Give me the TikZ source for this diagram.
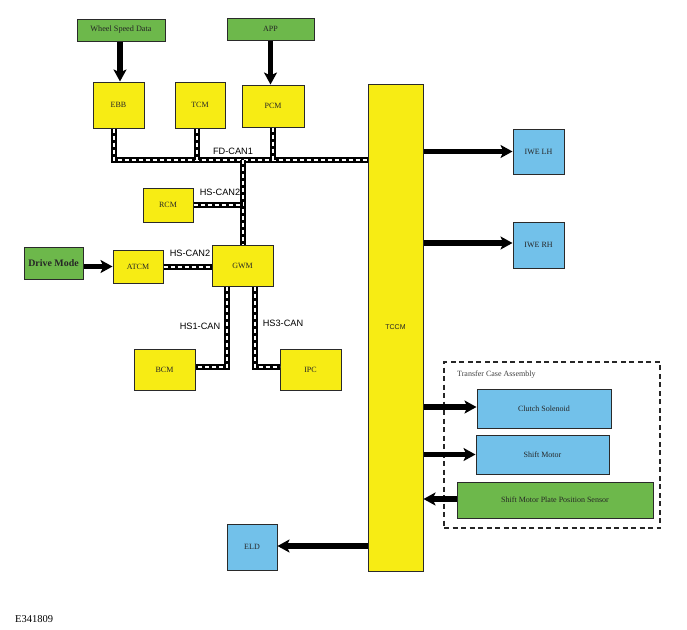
\documentclass[tikz,border=0pt]{standalone}
\usepackage{fontspec}
\setmainfont{Liberation Serif}
\setsansfont{Liberation Sans}
\usetikzlibrary{arrows.meta}
\definecolor{ecuyellow}{HTML}{F7EC14}
\definecolor{sigreen}{HTML}{6DB84B}
\definecolor{actblue}{HTML}{72C1EA}
\definecolor{edgegray}{HTML}{2A2A2A}
\tikzset{
  box/.style={draw=edgegray, line width=1pt, inner sep=0pt, align=center,
    font=\fontsize{8}{9.5}\selectfont, text=black!85},
  ecu/.style={box, fill=ecuyellow},
  sig/.style={box, fill=sigreen},
  act/.style={box, fill=actblue},
  bus/.style={draw=white, line width=2pt, dash pattern=on 4pt off 3pt,
    preaction={draw=black, line width=6pt, solid, line join=miter}},
  bigarrow/.style={draw=black, line width=5.3pt,
    -{Stealth[length=12pt, width=13pt, inset=3pt]}},
  buslabel/.style={font=\sffamily\fontsize{9.2}{10}\selectfont, inner sep=0pt},
}
\begin{document}
\begin{tikzpicture}[x=1pt, y=-1pt]
\useasboundingbox (0,0) rectangle (687,629);
% nodes
\node[sig, minimum width=88pt, minimum height=22pt, font=\fontsize{8.2}{9.5}\selectfont] (wsd) at (121,30) {Wheel Speed Data};
\node[sig, minimum width=87pt, minimum height=22pt] (app) at (270.5,29) {APP};
\node[ecu, minimum width=51pt, minimum height=46pt] (ebb) at (118.5,105) {EBB};
\node[ecu, minimum width=50pt, minimum height=46pt] (tcm) at (200,105) {TCM};
\node[ecu, minimum width=62pt, minimum height=42pt] (pcm) at (273,106) {PCM};
\node[ecu, minimum width=55pt, minimum height=487pt, font=\sffamily\fontsize{7}{8}\selectfont] (tccm) at (395.5,327.5) {TCCM};
\node[ecu, minimum width=50pt, minimum height=34pt] (rcm) at (168,205) {RCM};
\node[ecu, minimum width=61pt, minimum height=41pt] (gwm) at (242.5,265.5) {GWM};
\node[sig, minimum width=59pt, minimum height=32pt, font=\bfseries\fontsize{9.9}{11}\selectfont] (drive) at (53.5,263) {Drive Mode};
\node[ecu, minimum width=50pt, minimum height=33pt] (atcm) at (138,266.5) {ATCM};
\node[ecu, minimum width=61pt, minimum height=41pt] (bcm) at (164.5,369.5) {BCM};
\node[ecu, minimum width=61pt, minimum height=41pt] (ipc) at (310.5,369.5) {IPC};
\node[act, minimum width=51pt, minimum height=45pt] (iwel) at (538.5,151.5) {IWE LH};
\node[act, minimum width=51pt, minimum height=46pt] (iwer) at (538.5,245) {IWE RH};
\node[draw=black!85, line width=1.4pt, dash pattern=on 5pt off 3.5pt, minimum width=216pt, minimum height=166pt, inner sep=0pt] (tca) at (552,445) {};
\node[anchor=west, font=\fontsize{8}{9.5}\selectfont, text=black!75, inner sep=0pt] (tcalabel) at (457,375) {Transfer Case Assembly};
\node[act, minimum width=134pt, minimum height=39pt] (clutch) at (544,408.5) {Clutch Solenoid};
\node[act, minimum width=133pt, minimum height=39pt] (shift) at (542.5,454.5) {Shift Motor};
\node[sig, minimum width=196pt, minimum height=36pt] (sensor) at (555,500) {Shift Motor Plate Position Sensor};
\node[act, minimum width=50pt, minimum height=46pt] (eld) at (252,547) {ELD};
\node[anchor=west, font=\fontsize{10.5}{12}\selectfont, inner sep=0pt] (ref) at (15,619) {E341809};
% bus junctions
\coordinate (fd) at (243,160);
% CAN buses
\draw[bus] ([xshift=-4.5pt]ebb.south) |- (tccm.west |- fd);
\draw[bus] ([xshift=-3pt]tcm.south) -- ([xshift=-3pt]tcm.south |- fd);
\draw[bus] (pcm.south) -- (pcm.south |- fd);
\draw[bus] (fd) -- (fd |- gwm.north);
\draw[bus] (rcm.east) -- (rcm.east -| fd);
\draw[bus] (atcm.east) -- (atcm.east -| gwm.west);
\draw[bus] ([xshift=-15.5pt]gwm.south) |- ([yshift=3pt]bcm.east);
\draw[bus] ([xshift=12.5pt]gwm.south) |- ([yshift=2.5pt]ipc.west);
% bus labels
\node[buslabel] (lfd) at (233,151) {FD-CAN1};
\node[buslabel] (lhs2a) at (220,192) {HS-CAN2};
\node[buslabel] (lhs2b) at (190,253) {HS-CAN2};
\node[buslabel] (lhs1) at (200,326) {HS1-CAN};
\node[buslabel] (lhs3) at (283,323) {HS3-CAN};
% signal arrows
\draw[bigarrow] ([xshift=-1pt]wsd.south) -- ([xshift=-1pt]wsd.south |- ebb.north);
\draw[bigarrow] (app.south) -- (app.south |- pcm.north);
\draw[bigarrow] (drive.east |- atcm.west) -- (atcm.west);
\draw[bigarrow] (tccm.east |- iwel.west) -- (iwel.west);
\draw[bigarrow] ([yshift=2pt]tccm.east |- iwer.west) -- ([yshift=2pt]iwer.west);
\draw[bigarrow] ([yshift=1.5pt]tccm.east |- clutch.west) -- ([yshift=1.5pt]clutch.west);
\draw[bigarrow] (tccm.east |- shift.west) -- (shift.west);
\draw[bigarrow] ([yshift=1pt]sensor.west) -- ([yshift=1pt]sensor.west -| tccm.east);
\draw[bigarrow] ([yshift=1pt]tccm.west |- eld.east) -- ([yshift=1pt]eld.east);
\end{tikzpicture}
\end{document}
